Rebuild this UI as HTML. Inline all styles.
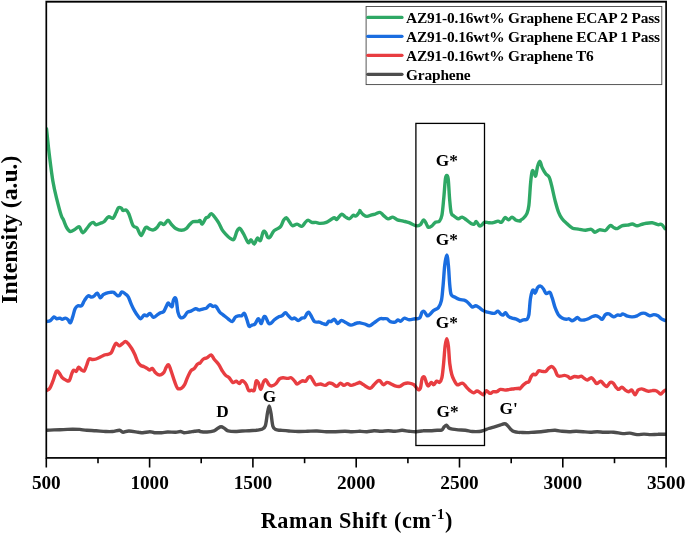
<!DOCTYPE html>
<html><head><meta charset="utf-8"><title>Raman spectra</title>
<style>
html,body{margin:0;padding:0;background:#fff;}
body{width:685px;height:534px;overflow:hidden;}
svg{display:block;}
svg text{font-family:"Liberation Serif","Times New Roman",serif;font-weight:bold;fill:#000;}
</style></head><body>
<svg width="685" height="534" viewBox="0 0 685 534">
<rect width="685" height="534" fill="#fff"/>
<clipPath id="pc"><rect x="46.3" y="1.8" width="619.8" height="456.1"/></clipPath>
<g fill="none" stroke-width="3.4" stroke-linejoin="round" stroke-linecap="round" clip-path="url(#pc)"><g transform="translate(0,0.4)">
<path d="M46.5,429.9 C47.8,429.8 51.2,429.6 54.0,429.5 C56.8,429.4 60.3,429.3 63.4,429.2 C66.5,429.1 70.0,428.8 72.7,428.8 C75.4,428.8 77.5,428.8 79.8,429.0 C82.1,429.2 84.1,429.7 86.8,429.9 C89.5,430.1 93.0,430.2 96.1,430.4 C99.2,430.6 102.8,431.0 105.5,431.1 C108.2,431.2 110.2,431.3 112.5,431.1 C114.8,430.9 117.8,429.8 119.5,429.9 C121.2,430.0 121.4,431.7 123.0,431.8 C124.6,431.9 126.4,430.6 128.9,430.6 C131.4,430.6 135.9,431.5 138.2,431.8 C140.5,432.1 140.9,432.4 142.9,432.3 C144.9,432.2 148.0,431.3 149.9,431.3 C151.8,431.3 152.7,432.1 154.6,432.3 C156.5,432.5 159.4,432.4 161.6,432.3 C163.8,432.2 165.2,431.7 167.5,431.6 C169.8,431.5 173.5,431.9 175.7,431.8 C177.8,431.7 179.0,431.0 180.4,431.1 C181.8,431.2 182.4,432.2 183.9,432.3 C185.4,432.4 187.9,431.8 189.7,431.6 C191.4,431.4 192.8,431.1 194.4,430.9 C196.0,430.7 198.2,430.4 199.1,430.4 C200.0,430.4 198.7,430.9 200.0,431.1 C201.3,431.3 204.7,431.7 207.0,431.6 C209.3,431.5 212.2,431.0 214.0,430.4 C215.8,429.8 216.3,428.8 217.5,428.1 C218.7,427.4 219.9,426.4 221.1,426.4 C222.3,426.4 223.4,427.4 224.6,428.1 C225.8,428.8 226.3,429.9 228.1,430.4 C229.8,430.9 232.8,431.1 235.1,431.1 C237.4,431.1 239.8,430.7 242.1,430.6 C244.4,430.5 246.8,430.5 249.1,430.4 C251.4,430.3 254.0,430.1 256.1,429.9 C258.2,429.6 260.3,429.6 261.8,428.9 C263.3,428.2 264.4,428.1 265.3,425.5 C266.2,422.9 266.8,416.3 267.4,413 C268.0,409.7 268.6,405.6 269.2,405.6 C269.8,405.6 270.4,409.6 271.0,413 C271.6,416.4 272.1,423.1 272.9,425.8 C273.7,428.5 274.5,428.5 275.8,429.2 C277.1,429.9 278.5,429.7 280.7,429.9 C282.9,430.1 286.0,430.4 288.9,430.6 C291.8,430.8 295.1,431.1 298.2,431.1 C301.3,431.2 304.5,431.0 307.6,430.9 C310.7,430.8 313.9,430.5 317.0,430.6 C320.1,430.7 323.2,431.2 326.3,431.3 C329.4,431.4 332.6,431.4 335.7,431.3 C338.8,431.2 342.3,430.9 345.0,430.9 C347.7,430.9 349.6,431.3 352.0,431.3 C354.4,431.3 357.8,431.0 359.1,430.9 C360.4,430.8 358.7,430.8 360.0,430.9 C361.3,431.0 364.7,431.4 367.0,431.3 C369.3,431.2 371.6,430.5 374.0,430.4 C376.4,430.3 378.8,430.9 381.1,430.9 C383.5,430.9 385.8,430.4 388.1,430.4 C390.4,430.4 392.8,431.0 395.1,430.9 C397.4,430.8 399.8,429.9 402.1,429.9 C404.4,429.9 406.8,430.7 409.1,430.9 C411.4,431.1 413.8,431.4 416.1,431.3 C418.5,431.2 420.9,430.5 423.2,430.4 C425.5,430.2 427.9,430.5 430.2,430.4 C432.5,430.3 435.2,430.0 437.2,429.9 C439.1,429.8 440.7,430.1 441.9,429.5 C443.1,428.9 443.4,427.2 444.2,426.4 C445.0,425.6 445.7,424.6 446.5,424.8 C447.3,425.0 447.9,426.9 448.9,427.6 C449.9,428.3 450.8,428.5 452.4,428.8 C453.9,429.1 456.0,429.3 458.2,429.5 C460.4,429.7 462.9,429.6 465.3,429.9 C467.7,430.2 470.0,430.9 472.3,431.1 C474.6,431.3 477.4,431.3 479.3,431.1 C481.2,430.9 482.4,430.4 484.0,429.9 C485.6,429.4 486.9,428.7 488.7,428.1 C490.4,427.5 492.8,426.9 494.5,426.4 C496.2,425.9 497.5,425.5 499.2,425.0 C500.9,424.5 503.2,423.4 504.6,423.4 C506.0,423.4 506.3,424.1 507.4,425.0 C508.4,425.9 509.7,427.9 510.9,429.0 C512.1,430.1 513.0,430.8 514.4,431.3 C515.8,431.8 518.2,431.9 519.1,432.0 C520.0,432.1 518.7,432.0 520.0,432.0 C521.3,432.0 524.7,432.2 527.0,432.2 C529.3,432.2 531.6,431.9 534.0,431.8 C536.4,431.7 538.8,431.5 541.1,431.3 C543.5,431.1 545.8,430.6 548.1,430.4 C550.4,430.2 552.8,429.8 555.1,429.9 C557.4,430.0 559.8,430.7 562.1,430.9 C564.4,431.1 566.8,431.3 569.1,431.3 C571.4,431.3 573.8,430.9 576.1,430.9 C578.5,430.9 580.9,431.1 583.2,431.3 C585.6,431.5 587.9,431.8 590.2,431.8 C592.5,431.8 594.9,431.3 597.2,431.3 C599.5,431.3 601.5,431.7 604.2,431.8 C606.9,431.9 610.5,431.6 613.6,431.8 C616.7,432.0 620.2,433.1 622.9,433.2 C625.6,433.3 627.5,432.5 629.9,432.7 C632.2,432.9 634.6,434.0 637.0,434.2 C639.4,434.4 641.7,433.7 644.0,433.7 C646.3,433.7 648.7,434.2 651.0,434.2 C653.3,434.2 655.6,433.9 658.0,433.9 C660.4,433.8 664.2,433.9 665.5,433.9" stroke="#4d4d4d"/>
<path d="M46.5,390.2 C47.0,389.8 48.7,389.4 49.8,387.8 C50.9,386.2 51.8,383.6 52.9,380.8 C54.0,378.0 55.3,372.4 56.4,371.0 C57.5,369.6 58.2,371.6 59.2,372.6 C60.2,373.7 61.1,376.1 62.2,377.3 C63.3,378.5 64.5,379.1 65.7,379.6 C66.9,380.1 68.2,381.4 69.2,380.4 C70.2,379.4 70.9,375.6 71.6,373.8 C72.3,372.0 72.7,370.3 73.5,369.8 C74.3,369.3 75.5,371.5 76.3,371.0 C77.1,370.5 77.7,367.0 78.6,366.8 C79.5,366.6 80.6,369.0 81.6,369.6 C82.6,370.2 83.5,371.2 84.4,370.3 C85.3,369.4 86.0,366.3 86.8,364.4 C87.6,362.4 88.1,359.5 89.1,358.6 C90.1,357.7 91.4,359.1 92.6,359.1 C93.8,359.1 94.8,359.0 96.1,358.6 C97.4,358.2 99.0,357.4 100.4,356.7 C101.8,356.0 103.1,355.1 104.3,354.6 C105.5,354.1 106.6,354.3 107.8,353.9 C109.0,353.5 110.3,353.5 111.3,352.3 C112.3,351.1 112.9,348.5 113.7,346.9 C114.5,345.3 115.1,343.2 116.0,342.9 C116.9,342.6 118.0,345.2 119.1,345.3 C120.1,345.4 121.2,344.1 122.3,343.4 C123.3,342.7 124.4,341.1 125.4,341.1 C126.4,341.1 127.4,342.2 128.4,343.4 C129.4,344.6 130.6,346.4 131.7,348.1 C132.8,349.9 133.7,351.6 134.7,353.9 C135.7,356.1 136.8,359.8 137.8,361.6 C138.8,363.4 139.6,364.1 140.6,364.9 C141.6,365.7 143.0,365.8 144.1,366.3 C145.2,366.8 146.1,367.4 147.1,368.0 C148.1,368.6 149.0,369.6 149.9,369.6 C150.8,369.6 151.4,367.6 152.3,368.0 C153.2,368.4 154.1,370.8 155.1,371.9 C156.1,372.9 157.1,373.9 158.1,374.3 C159.1,374.7 160.2,374.7 161.2,374.3 C162.2,373.9 163.2,373.1 164.0,371.9 C164.8,370.6 165.5,368.1 166.3,366.8 C167.1,365.6 167.9,363.8 168.7,364.4 C169.5,365.0 170.0,367.6 171.0,370.3 C172.0,373.0 173.4,377.9 174.5,380.8 C175.6,383.7 176.3,386.6 177.5,387.8 C178.7,389.0 180.3,388.4 181.5,387.8 C182.7,387.2 183.6,386.1 184.6,384.3 C185.6,382.6 186.3,379.6 187.4,377.3 C188.5,375.0 189.7,371.9 190.9,370.3 C192.1,368.8 193.4,369.1 194.4,368.0 C195.4,366.9 196.4,364.9 197.2,364.0 C198.0,363.1 198.6,363.0 199.1,362.8 C199.6,362.6 199.3,363.3 200.0,362.6 C200.7,361.9 202.3,359.5 203.5,358.6 C204.7,357.7 205.7,358.1 207.0,357.4 C208.3,356.7 210.0,354.4 211.2,354.6 C212.4,354.8 212.8,357.0 214.0,358.6 C215.2,360.2 217.3,362.1 218.7,364.0 C220.1,365.9 221.0,368.5 222.2,370.3 C223.4,372.1 224.5,373.8 225.7,375.0 C226.9,376.2 228.0,376.1 229.2,377.3 C230.4,378.5 231.5,381.4 232.7,382.0 C233.9,382.6 235.2,380.6 236.3,380.8 C237.4,381.0 238.4,383.3 239.3,383.2 C240.2,383.1 240.8,380.7 241.6,380.4 C242.4,380.1 243.2,380.6 244.0,381.3 C244.8,382.0 245.5,382.8 246.3,384.3 C247.1,385.8 247.8,389.3 248.7,390.2 C249.6,391.1 250.6,389.8 251.5,389.7 C252.4,389.6 253.5,391.2 254.3,389.7 C255.1,388.2 255.4,382.0 256.1,380.8 C256.8,379.6 257.7,381.3 258.5,382.7 C259.3,384.1 259.9,389.2 260.8,389.0 C261.7,388.8 262.7,382.9 263.6,381.3 C264.5,379.7 265.1,379.1 266.0,379.6 C266.9,380.1 268.0,383.3 269.0,384.3 C270.0,385.3 270.8,385.7 272.0,385.5 C273.2,385.3 274.8,384.4 276.0,383.2 C277.2,382.0 278.3,379.5 279.5,378.5 C280.7,377.5 281.6,377.4 283.0,377.3 C284.4,377.2 286.3,378.0 287.7,378.0 C289.1,378.0 290.0,376.8 291.2,377.3 C292.4,377.8 293.7,379.8 294.7,380.8 C295.7,381.9 296.1,383.5 297.1,383.6 C298.1,383.7 299.6,381.8 300.6,381.3 C301.6,380.8 302.0,380.5 302.9,380.4 C303.8,380.3 304.8,381.3 305.7,380.8 C306.6,380.3 307.3,378.1 308.1,377.3 C308.9,376.5 309.6,375.7 310.4,376.1 C311.2,376.5 311.8,378.2 312.7,379.6 C313.6,381.0 314.5,383.6 315.8,384.3 C317.1,385.0 318.9,383.5 320.5,383.6 C322.1,383.7 323.7,385.1 325.1,385.0 C326.5,384.9 327.5,383.0 328.7,382.7 C329.9,382.4 330.8,382.6 332.2,383.2 C333.6,383.8 335.4,386.1 336.8,386.0 C338.2,385.9 339.2,382.9 340.4,382.7 C341.6,382.5 342.7,384.9 343.9,385.0 C345.1,385.1 346.2,383.2 347.4,383.2 C348.6,383.2 349.5,384.9 350.9,385.0 C352.3,385.1 354.2,384.1 355.6,383.6 C357.0,383.1 358.4,382.5 359.1,382.2 C359.8,381.9 359.3,381.6 360.0,382.0 C360.7,382.4 362.3,383.5 363.5,384.3 C364.7,385.1 365.8,386.1 367.0,386.7 C368.2,387.3 369.3,388.2 370.5,387.8 C371.7,387.4 372.8,385.5 374.0,384.3 C375.2,383.1 376.5,381.5 377.5,380.8 C378.5,380.1 378.9,379.8 379.9,380.4 C380.9,381.0 382.2,384.0 383.4,384.3 C384.6,384.6 385.7,382.2 386.9,382.0 C388.1,381.8 389.0,382.6 390.4,383.2 C391.8,383.8 393.5,385.0 395.1,385.5 C396.7,386.0 398.2,386.4 399.8,386.0 C401.4,385.6 402.8,383.8 404.4,383.2 C405.9,382.6 407.5,382.5 409.1,382.7 C410.7,382.9 412.3,383.2 413.8,384.3 C415.3,385.4 416.9,388.4 418.0,389.0 C419.1,389.6 419.7,389.6 420.4,387.8 C421.1,386.1 421.4,380.4 422.0,378.5 C422.6,376.6 423.5,375.8 424.3,376.6 C425.1,377.4 426.0,381.7 426.7,383.2 C427.4,384.7 427.5,385.7 428.3,385.5 C429.1,385.3 430.4,382.2 431.3,382.0 C432.2,381.8 432.8,384.5 433.7,384.3 C434.6,384.1 435.7,381.2 436.7,380.8 C437.7,380.4 438.6,382.6 439.5,382.0 C440.4,381.4 441.2,380.6 441.9,377.3 C442.6,374.0 443.2,367.4 443.7,362.1 C444.2,356.8 444.6,349.7 445.1,345.7 C445.6,341.7 446.2,338.2 446.8,338.2 C447.4,338.2 447.9,341.5 448.4,345.7 C448.9,349.9 449.2,358.6 449.8,363.3 C450.4,368.0 451.0,371.1 451.7,373.8 C452.4,376.5 453.1,377.9 454.0,379.6 C454.9,381.4 456.0,383.7 457.1,384.3 C458.2,384.9 459.6,383.4 460.6,383.2 C461.7,383.0 462.4,382.6 463.4,383.2 C464.4,383.8 465.3,385.5 466.4,386.7 C467.5,387.9 468.7,389.2 469.9,390.2 C471.1,391.2 472.3,392.4 473.5,392.5 C474.7,392.6 475.8,390.6 477.0,390.6 C478.2,390.6 479.4,391.9 480.5,392.5 C481.6,393.1 482.5,394.8 483.5,394.4 C484.5,394.0 485.2,390.4 486.3,390.2 C487.4,390.0 488.6,392.8 489.8,393.0 C491.0,393.2 492.1,391.6 493.3,391.3 C494.5,391.0 495.6,391.7 496.8,391.3 C498.0,390.9 499.0,389.3 500.4,389.0 C501.8,388.7 503.4,389.7 505.0,389.7 C506.6,389.7 508.1,389.2 509.7,389.0 C511.3,388.8 512.8,388.5 514.4,388.3 C516.0,388.1 518.2,387.8 519.1,387.8 C520.0,387.8 519.3,388.9 520.0,388.3 C520.7,387.7 522.4,385.4 523.5,384.3 C524.6,383.2 525.6,382.5 526.5,382.0 C527.4,381.5 528.1,382.3 528.9,381.3 C529.7,380.3 530.4,377.4 531.2,376.1 C532.0,374.9 532.8,374.1 533.6,373.8 C534.4,373.5 535.0,374.9 535.9,374.3 C536.8,373.7 537.7,370.9 538.7,370.3 C539.8,369.8 541.0,370.9 542.2,371.0 C543.4,371.1 544.7,371.5 545.7,371.0 C546.8,370.5 547.5,368.8 548.5,368.0 C549.5,367.2 550.6,366.0 551.6,366.1 C552.6,366.2 553.6,367.2 554.6,368.7 C555.6,370.2 556.4,373.8 557.4,375.0 C558.4,376.2 559.7,375.7 560.9,375.7 C562.1,375.7 563.2,374.9 564.4,375.0 C565.6,375.1 567.0,375.6 568.0,376.1 C569.0,376.6 569.2,378.0 570.3,378.0 C571.3,378.0 572.9,376.3 574.3,376.1 C575.7,375.9 577.3,376.7 578.5,376.6 C579.7,376.5 580.3,375.5 581.3,375.7 C582.3,375.9 583.3,377.4 584.3,378.0 C585.3,378.6 586.2,379.7 587.4,379.6 C588.6,379.5 590.1,377.2 591.3,377.3 C592.5,377.4 593.5,379.4 594.4,380.4 C595.3,381.4 595.7,383.1 596.7,383.2 C597.8,383.3 599.5,380.6 600.7,380.8 C602.0,381.0 603.2,383.4 604.2,384.3 C605.2,385.2 606.0,386.4 607.0,386.0 C608.0,385.6 609.1,382.6 610.1,382.0 C611.1,381.4 612.1,381.9 613.1,382.7 C614.1,383.5 615.0,385.6 615.9,386.7 C616.8,387.8 617.7,389.0 618.7,389.0 C619.7,389.0 620.7,386.6 621.8,386.7 C622.9,386.8 624.1,388.9 625.3,389.7 C626.5,390.5 627.7,391.3 628.8,391.3 C629.9,391.3 630.8,389.2 631.8,389.7 C632.8,390.2 634.0,394.4 635.1,394.4 C636.2,394.4 637.0,390.7 638.1,389.7 C639.2,388.7 640.4,388.5 641.6,388.5 C642.8,388.5 643.9,389.3 645.1,389.7 C646.3,390.1 647.5,390.8 648.7,390.9 C649.9,391.0 651.0,390.3 652.2,390.2 C653.4,390.1 654.7,389.9 655.7,390.2 C656.8,390.5 657.6,391.4 658.5,392.0 C659.4,392.6 660.0,393.8 660.8,393.7 C661.6,393.6 662.4,392.0 663.2,391.3 C664.0,390.6 665.1,390.0 665.5,389.7" stroke="#e83d41"/>
<path d="M46.5,321.2 C47.2,321.0 49.2,320.9 50.5,320.1 C51.8,319.3 53.0,316.8 54.0,316.5 C55.0,316.2 55.8,318.2 56.8,318.4 C57.8,318.6 59.0,317.6 59.9,317.7 C60.8,317.8 61.3,318.9 62.2,318.9 C63.1,318.9 64.3,317.6 65.3,317.7 C66.3,317.8 67.2,318.6 68.1,319.4 C68.9,320.2 69.6,322.9 70.4,322.4 C71.2,321.9 71.9,318.8 72.7,316.5 C73.5,314.2 74.2,310.3 75.1,308.4 C76.0,306.5 76.8,305.8 77.9,305.3 C79.0,304.8 80.5,306.2 81.6,305.3 C82.7,304.4 83.3,301.8 84.4,300.2 C85.5,298.6 86.8,296.1 88.0,295.5 C89.2,294.9 90.5,296.7 91.5,296.7 C92.5,296.7 93.3,296.2 94.3,295.5 C95.3,294.8 96.3,292.4 97.3,292.7 C98.3,293.0 99.4,297.1 100.4,297.4 C101.4,297.7 102.2,295.1 103.2,294.3 C104.2,293.5 105.5,293.1 106.7,292.7 C107.9,292.3 109.0,292.1 110.2,292.0 C111.4,291.9 112.5,291.5 113.7,292.0 C114.9,292.5 116.2,294.5 117.2,295.0 C118.2,295.5 118.7,295.6 119.5,295.0 C120.3,294.4 120.9,291.7 121.9,291.5 C122.9,291.3 124.3,292.7 125.4,293.6 C126.5,294.5 127.4,295.0 128.4,296.7 C129.4,298.4 130.1,301.4 131.2,303.7 C132.2,306.0 133.6,308.8 134.7,310.7 C135.8,312.6 136.8,314.1 137.8,315.4 C138.8,316.7 139.6,318.5 140.6,318.4 C141.6,318.3 143.0,315.2 144.1,314.7 C145.2,314.2 146.1,315.7 147.1,315.4 C148.1,315.1 148.8,312.7 149.9,313.0 C151.0,313.3 152.3,316.7 153.5,317.0 C154.7,317.3 155.8,315.5 157.0,314.7 C158.2,313.9 159.4,312.9 160.5,312.3 C161.6,311.8 162.5,312.4 163.5,311.4 C164.5,310.3 165.5,307.5 166.3,306.0 C167.1,304.5 167.5,302.6 168.2,302.5 C168.9,302.4 169.8,304.7 170.5,305.3 C171.2,305.9 171.7,306.9 172.2,306.0 C172.7,305.1 172.8,301.6 173.3,300.2 C173.8,298.8 174.5,297.4 175.0,297.4 C175.5,297.4 175.9,297.8 176.4,300.2 C176.9,302.6 177.3,309.1 178.0,311.9 C178.7,314.7 179.4,316.2 180.4,317.0 C181.4,317.8 182.7,317.4 183.9,316.5 C185.1,315.6 186.2,312.9 187.4,311.9 C188.6,310.9 189.5,311.3 190.9,310.7 C192.3,310.1 194.3,308.6 195.6,308.4 C196.9,308.2 197.9,309.3 198.6,309.5 C199.3,309.7 199.2,309.7 200.0,309.5 C200.8,309.3 202.4,308.7 203.5,308.4 C204.6,308.1 205.4,308.4 206.5,307.7 C207.6,307.0 208.7,304.7 209.8,304.4 C210.9,304.1 211.9,305.7 212.9,306.0 C213.9,306.3 214.7,305.0 215.9,306.0 C217.1,307.0 218.7,310.4 219.9,311.9 C221.2,313.3 222.0,313.6 223.4,314.7 C224.8,315.8 226.6,317.3 228.1,318.4 C229.6,319.5 231.1,321.4 232.3,321.2 C233.5,321.0 234.1,318.0 235.1,317.0 C236.1,316.0 237.5,315.7 238.6,315.4 C239.7,315.1 240.6,315.8 241.6,315.4 C242.6,315.0 243.5,312.4 244.4,313.0 C245.3,313.6 246.0,316.8 246.8,318.9 C247.6,321.0 248.2,324.9 249.1,325.9 C249.9,326.9 250.9,325.1 251.9,324.7 C252.9,324.3 254.0,324.7 255.0,323.6 C256.0,322.6 257.2,319.0 258.0,318.4 C258.8,317.8 259.1,319.3 259.6,320.1 C260.2,320.9 260.6,323.6 261.3,323.1 C262.0,322.6 262.9,318.1 263.6,317.0 C264.3,315.9 264.7,315.6 265.5,316.5 C266.3,317.4 267.4,321.3 268.3,322.4 C269.2,323.5 269.6,323.6 270.6,323.1 C271.6,322.6 273.1,320.5 274.4,319.4 C275.7,318.3 277.1,317.2 278.4,316.5 C279.6,315.8 280.7,316.1 281.9,315.4 C283.1,314.7 284.3,312.3 285.4,312.3 C286.5,312.3 287.3,314.4 288.4,315.4 C289.4,316.4 290.6,318.0 291.7,318.4 C292.8,318.8 293.6,317.4 294.7,317.7 C295.8,318.0 297.0,320.1 298.2,320.1 C299.4,320.1 300.7,318.2 301.8,317.7 C302.9,317.2 303.9,317.8 304.8,317.0 C305.7,316.2 306.4,313.9 307.1,313.0 C307.8,312.1 308.1,311.5 308.8,311.9 C309.5,312.3 310.1,313.8 311.1,315.4 C312.1,316.9 313.2,320.1 314.6,321.2 C316.0,322.2 317.9,321.4 319.3,321.7 C320.7,322.0 321.6,322.7 322.8,323.1 C324.0,323.5 325.3,324.4 326.3,324.0 C327.3,323.6 327.9,321.3 328.7,320.8 C329.5,320.3 330.0,321.5 331.0,321.2 C332.0,320.9 333.4,318.6 334.5,318.9 C335.6,319.2 336.3,322.9 337.5,323.1 C338.7,323.3 340.1,320.2 341.5,320.1 C342.9,320.0 344.6,321.6 346.2,322.4 C347.8,323.2 349.3,324.6 350.9,324.7 C352.5,324.8 354.2,323.5 355.6,323.1 C357.0,322.7 358.4,322.5 359.1,322.4 C359.8,322.3 359.1,322.2 360.0,322.4 C360.9,322.6 363.1,323.1 364.7,323.6 C366.3,324.1 367.8,325.6 369.4,325.4 C370.9,325.2 372.2,323.6 374.0,322.4 C375.8,321.2 378.3,319.1 379.9,318.4 C381.5,317.7 382.2,318.4 383.4,318.4 C384.6,318.4 385.7,317.9 386.9,318.4 C388.1,318.9 389.0,320.6 390.4,321.2 C391.8,321.8 393.9,322.0 395.1,321.7 C396.4,321.4 396.9,319.8 397.9,319.6 C398.9,319.5 399.8,321.1 400.9,320.8 C402.0,320.5 403.0,317.9 404.4,317.7 C405.8,317.5 407.3,319.3 409.1,319.4 C410.9,319.5 413.2,318.7 415.0,318.4 C416.8,318.1 418.4,318.8 419.6,317.7 C420.8,316.6 421.2,313.0 422.0,311.9 C422.8,310.8 423.4,310.6 424.3,311.2 C425.2,311.8 426.4,315.0 427.4,315.4 C428.4,315.8 429.1,314.6 430.2,313.7 C431.2,312.8 432.3,311.1 433.7,310.0 C435.1,308.9 437.1,308.8 438.4,307.2 C439.7,305.6 440.6,303.7 441.4,300.2 C442.2,296.7 442.4,292.0 443.0,286.1 C443.6,280.2 444.1,270.4 444.7,265.1 C445.3,259.9 446.2,254.6 446.8,254.6 C447.4,254.6 447.9,260.0 448.4,265.1 C448.9,270.2 449.3,280.1 449.8,285.0 C450.3,289.9 450.4,292.4 451.2,294.3 C452.0,296.2 453.3,295.9 454.7,296.7 C456.1,297.5 457.6,298.4 459.4,299.0 C461.2,299.6 463.7,299.5 465.3,300.2 C466.9,300.9 467.6,301.9 468.8,303.0 C470.0,304.1 471.1,306.3 472.3,306.7 C473.5,307.1 474.6,305.2 475.8,305.3 C477.0,305.4 478.1,306.4 479.3,307.2 C480.5,308.0 481.6,309.3 482.8,310.0 C484.0,310.7 485.1,311.0 486.3,311.4 C487.5,311.8 488.6,312.0 489.8,312.3 C491.0,312.6 492.3,313.0 493.3,313.0 C494.3,313.0 494.9,312.7 495.7,312.3 C496.5,311.9 497.1,310.5 498.0,310.7 C498.9,310.9 499.9,313.0 500.8,313.7 C501.7,314.4 502.4,314.9 503.2,314.7 C504.0,314.5 504.6,312.1 505.5,312.3 C506.4,312.5 507.4,315.2 508.5,316.1 C509.6,317.0 510.8,317.3 512.0,317.7 C513.2,318.1 514.4,318.0 515.6,318.4 C516.8,318.8 518.4,319.9 519.1,320.3 C519.8,320.7 519.3,321.0 520.0,320.8 C520.7,320.6 522.3,319.7 523.5,319.4 C524.7,319.1 526.1,319.8 527.0,318.9 C527.9,318.0 528.3,317.7 528.9,314.2 C529.5,310.7 529.8,301.9 530.5,297.8 C531.2,293.7 532.1,290.5 532.9,289.6 C533.7,288.8 534.4,293.1 535.2,292.7 C536.0,292.3 536.6,288.5 537.5,287.3 C538.4,286.1 539.6,285.5 540.6,285.7 C541.6,285.9 542.5,287.2 543.4,288.5 C544.3,289.8 545.1,292.6 546.2,293.2 C547.3,293.8 548.9,291.2 549.9,292.0 C550.9,292.8 551.4,295.3 552.3,297.8 C553.2,300.3 554.0,304.4 555.1,307.2 C556.2,310.0 557.4,312.9 558.6,314.7 C559.8,316.4 560.8,317.0 562.1,317.7 C563.4,318.4 565.1,318.8 566.3,318.9 C567.5,319.0 568.2,318.2 569.1,318.4 C570.0,318.6 570.9,320.2 571.9,320.3 C572.9,320.4 574.1,319.4 575.0,318.9 C575.9,318.3 576.4,316.9 577.3,317.0 C578.2,317.1 579.2,319.0 580.4,319.4 C581.6,319.8 583.0,319.8 584.3,319.6 C585.6,319.4 586.9,319.0 588.3,318.4 C589.7,317.8 591.2,316.6 592.5,316.1 C593.8,315.6 594.8,315.2 596.0,315.4 C597.2,315.5 598.5,316.4 599.5,317.0 C600.5,317.6 601.3,319.4 602.3,318.9 C603.3,318.4 604.3,315.1 605.4,314.2 C606.5,313.3 607.5,313.1 608.9,313.5 C610.3,313.9 612.2,316.3 613.6,316.5 C615.0,316.7 615.9,315.0 617.1,314.7 C618.3,314.4 619.6,315.1 620.6,314.9 C621.6,314.7 621.7,313.4 622.9,313.5 C624.1,313.6 626.0,315.3 627.6,315.8 C629.2,316.3 630.7,316.6 632.3,316.5 C633.9,316.4 635.5,316.0 637.0,315.4 C638.5,314.8 640.2,313.4 641.6,313.0 C643.0,312.6 643.7,312.6 645.1,313.0 C646.5,313.4 648.3,315.2 649.8,315.4 C651.2,315.6 652.4,314.2 653.8,314.2 C655.2,314.2 656.7,314.7 658.0,315.4 C659.3,316.1 660.3,317.6 661.5,318.4 C662.7,319.2 664.4,319.8 665.0,320.1" stroke="#1a6de0"/>
<path d="M46.5,128.2 C47.0,132.7 48.3,146.3 49.4,155.1 C50.5,163.9 51.7,173.8 52.9,180.8 C54.1,187.8 55.0,191.5 56.4,197.2 C57.8,202.8 59.9,211.0 61.1,214.7 C62.3,218.4 62.4,217.2 63.4,219.4 C64.4,221.6 65.7,225.7 66.9,227.6 C68.1,229.5 69.0,230.9 70.4,231.1 C71.8,231.3 73.6,229.6 75.1,228.8 C76.6,228.0 78.0,225.8 79.3,226.4 C80.5,227.0 81.3,232.0 82.6,232.3 C83.8,232.6 85.5,229.6 86.8,228.1 C88.1,226.6 89.2,224.6 90.3,223.6 C91.4,222.6 92.3,221.9 93.3,222.0 C94.3,222.1 94.8,224.2 96.1,224.3 C97.4,224.4 99.9,223.0 101.3,222.5 C102.7,222.0 103.1,222.1 104.3,221.1 C105.5,220.1 107.0,216.9 108.5,216.4 C110.0,215.9 111.8,218.5 113.0,217.8 C114.2,217.1 115.1,214.2 116.0,212.4 C116.9,210.7 117.5,208.1 118.4,207.3 C119.3,206.5 120.6,207.2 121.4,207.7 C122.2,208.2 122.2,209.8 123.0,210.1 C123.8,210.4 125.1,209.0 126.1,209.6 C127.1,210.2 127.7,211.0 128.9,213.6 C130.1,216.2 131.7,223.0 133.1,225.3 C134.5,227.6 135.8,226.0 137.1,227.6 C138.4,229.2 139.7,235.2 141.1,235.1 C142.5,235.0 144.2,228.1 145.7,227.1 C147.2,226.1 148.6,228.4 149.9,228.8 C151.2,229.2 152.3,229.8 153.5,229.5 C154.7,229.2 155.8,228.3 157.0,227.1 C158.2,225.9 159.3,223.0 160.5,222.5 C161.7,222.0 162.8,224.5 164.0,224.1 C165.2,223.7 166.8,219.9 168.0,219.9 C169.2,219.9 170.2,222.7 171.5,224.1 C172.8,225.5 174.0,227.1 175.7,228.1 C177.4,229.1 179.8,229.9 181.5,229.9 C183.2,229.9 184.8,229.3 186.2,228.3 C187.6,227.3 188.5,225.3 189.7,224.1 C190.9,222.9 191.8,221.8 193.2,221.3 C194.6,220.8 196.8,221.3 197.9,221.1 C199.0,220.9 199.3,219.8 200.0,220.2 C200.7,220.6 201.3,224.1 202.3,223.7 C203.3,223.3 204.8,219.0 205.8,217.8 C206.8,216.6 207.3,217.5 208.2,216.7 C209.1,215.9 210.0,213.1 211.2,213.2 C212.4,213.3 213.9,215.8 215.2,217.4 C216.4,219.0 217.5,220.5 218.7,222.5 C219.9,224.5 221.0,227.6 222.2,229.5 C223.4,231.4 224.4,232.3 225.7,233.7 C227.0,235.1 228.5,236.8 229.9,237.7 C231.3,238.6 232.7,240.1 233.9,238.9 C235.1,237.7 236.0,232.5 237.0,230.7 C238.0,228.9 238.8,227.5 239.8,227.9 C240.9,228.3 242.1,231.0 243.3,233.0 C244.5,235.0 245.9,238.5 246.8,240.1 C247.7,241.7 248.0,242.5 248.7,242.4 C249.4,242.3 250.1,239.2 251.0,239.4 C251.9,239.6 253.2,243.9 254.3,243.6 C255.4,243.3 256.3,238.3 257.3,237.7 C258.3,237.1 259.4,241.1 260.4,240.1 C261.4,239.1 262.3,232.8 263.2,231.4 C264.1,230.0 264.7,231.0 265.5,231.9 C266.3,232.8 267.0,236.2 267.8,237.0 C268.6,237.8 269.2,237.6 270.2,236.5 C271.2,235.4 272.5,232.0 273.7,230.7 C274.9,229.3 276.0,229.2 277.2,228.4 C278.4,227.6 279.6,227.4 280.7,226.0 C281.8,224.6 282.7,221.1 283.7,219.7 C284.7,218.3 285.6,217.1 286.5,217.4 C287.4,217.7 288.4,220.0 289.4,221.3 C290.4,222.6 291.1,224.9 292.4,225.3 C293.7,225.7 295.5,223.6 297.1,223.7 C298.7,223.8 300.4,226.3 301.8,226.0 C303.2,225.7 304.2,223.1 305.3,222.0 C306.4,220.9 307.0,219.7 308.1,219.7 C309.2,219.7 310.5,221.6 311.8,222.0 C313.1,222.4 314.4,221.8 315.8,222.0 C317.2,222.2 318.8,223.0 320.5,223.0 C322.2,223.0 324.6,222.7 326.3,222.0 C328.1,221.3 329.6,219.8 331.0,219.0 C332.4,218.2 333.5,217.4 334.5,217.4 C335.5,217.4 335.6,219.6 336.8,219.0 C338.0,218.4 340.1,214.4 341.5,213.9 C342.9,213.4 343.7,215.4 345.0,216.2 C346.3,217.0 347.8,218.7 349.2,218.5 C350.6,218.3 352.0,215.5 353.2,215.0 C354.4,214.5 355.2,216.2 356.3,215.5 C357.4,214.8 359.4,211.6 360.0,210.8 C360.6,210.0 359.4,210.0 360.0,210.6 C360.6,211.2 362.3,213.5 363.5,214.4 C364.7,215.3 365.6,216.0 367.0,216.0 C368.4,216.0 370.3,214.8 371.7,214.4 C373.1,214.0 373.8,214.1 375.2,213.7 C376.6,213.3 378.5,211.8 379.9,212.0 C381.3,212.2 382.0,213.8 383.4,214.9 C384.8,216.0 386.6,218.1 388.1,218.4 C389.7,218.7 391.1,216.5 392.7,216.7 C394.2,216.9 395.6,218.8 397.4,219.5 C399.2,220.2 401.4,220.2 403.3,220.7 C405.2,221.2 407.0,221.5 409.1,222.3 C411.2,223.1 414.2,225.1 416.1,225.4 C418.0,225.7 419.1,225.2 420.4,224.2 C421.6,223.2 422.6,219.5 423.6,219.5 C424.7,219.5 425.9,222.9 426.7,224.2 C427.5,225.4 427.4,226.8 428.3,227.0 C429.2,227.2 430.8,226.2 432.0,225.4 C433.2,224.6 434.1,222.7 435.3,221.9 C436.6,221.1 438.4,221.9 439.5,220.7 C440.6,219.5 441.2,218.6 441.9,214.9 C442.6,211.2 443.1,204.6 443.7,198.5 C444.3,192.4 444.9,182.5 445.4,178.6 C445.9,174.7 446.3,175.1 446.8,175.1 C447.3,175.1 447.7,174.7 448.2,178.6 C448.7,182.5 449.1,192.8 449.6,198.5 C450.1,204.2 450.5,209.7 451.2,212.5 C451.9,215.3 452.4,214.3 453.6,215.3 C454.8,216.3 456.8,218.2 458.2,218.4 C459.6,218.6 460.8,216.5 462.2,216.7 C463.6,216.9 464.9,218.4 466.4,219.5 C467.9,220.6 469.8,222.3 471.1,223.0 C472.4,223.7 473.3,224.0 474.2,223.7 C475.1,223.4 475.4,220.9 476.3,221.2 C477.2,221.5 478.4,224.8 479.3,225.4 C480.2,226.0 480.8,225.3 481.6,224.7 C482.5,224.1 483.2,222.3 484.4,221.9 C485.6,221.5 487.2,222.2 488.7,222.3 C490.2,222.4 491.8,222.6 493.3,222.3 C494.9,222.0 496.6,220.8 498.0,220.7 C499.4,220.6 500.3,222.5 501.5,221.9 C502.7,221.3 503.8,217.6 505.0,217.2 C506.2,216.8 507.3,219.6 508.5,219.5 C509.7,219.4 510.8,216.7 512.0,216.7 C513.2,216.7 514.3,218.8 515.6,219.5 C516.9,220.2 519.3,220.6 520.0,220.7 C520.7,220.8 519.4,220.6 520.0,220.1 C520.6,219.6 522.3,218.9 523.5,217.7 C524.7,216.5 526.1,215.1 527.0,213.0 C527.9,210.9 528.3,209.8 528.9,204.9 C529.5,200.0 530.0,189.5 530.5,183.8 C531.0,178.1 531.6,172.9 532.2,170.9 C532.8,168.9 533.4,171.3 534.0,172.1 C534.6,172.9 535.1,176.6 535.7,175.6 C536.3,174.6 536.8,168.8 537.5,166.3 C538.2,163.9 539.1,160.7 539.9,160.9 C540.7,161.1 541.2,165.3 542.2,167.4 C543.2,169.5 544.5,171.7 545.7,173.3 C546.9,174.9 548.2,174.9 549.2,176.8 C550.2,178.8 550.6,181.1 551.6,185.0 C552.6,188.9 553.9,195.7 555.1,200.2 C556.3,204.7 557.4,208.9 558.6,211.9 C559.8,214.9 560.7,216.5 562.1,218.4 C563.5,220.3 565.0,221.5 566.8,223.1 C568.5,224.7 570.6,226.9 572.6,227.8 C574.6,228.7 576.4,228.3 578.5,228.7 C580.6,229.0 583.4,229.9 585.5,229.9 C587.6,229.9 589.7,228.6 591.3,228.9 C592.9,229.2 593.5,231.7 594.9,231.8 C596.3,231.9 597.8,229.7 599.5,229.4 C601.2,229.1 603.6,230.8 605.4,230.1 C607.2,229.4 608.7,225.7 610.1,225.2 C611.5,224.7 612.4,226.6 613.6,227.1 C614.8,227.6 615.7,228.5 617.1,228.2 C618.5,227.9 620.0,226.0 621.8,225.4 C623.5,224.8 625.9,225.0 627.6,224.7 C629.4,224.4 630.7,223.5 632.3,223.6 C633.9,223.7 635.5,225.3 637.0,225.4 C638.5,225.5 640.1,224.4 641.6,224.0 C643.1,223.6 644.5,223.2 646.3,222.9 C648.1,222.6 650.2,222.2 652.2,222.4 C654.2,222.6 656.5,224.0 658.0,224.3 C659.5,224.6 660.3,223.3 661.5,224.0 C662.7,224.7 664.4,227.5 665.0,228.2" stroke="#2ea865"/>
</g></g>
<rect x="45.4" y="0" width="621.6" height="1" fill="#c2c2c2"/>
<rect x="46.3" y="1.8" width="619.8" height="456.1" fill="none" stroke="#000" stroke-width="1.7"/>
<g stroke="#000" stroke-width="1.6"><line x1="46.3" y1="457.9" x2="46.3" y2="467.5"/><line x1="149.6" y1="457.9" x2="149.6" y2="467.5"/><line x1="252.9" y1="457.9" x2="252.9" y2="467.5"/><line x1="356.2" y1="457.9" x2="356.2" y2="467.5"/><line x1="459.5" y1="457.9" x2="459.5" y2="467.5"/><line x1="562.8" y1="457.9" x2="562.8" y2="467.5"/><line x1="666.1" y1="457.9" x2="666.1" y2="467.5"/><line x1="98.0" y1="457.9" x2="98.0" y2="463.2"/><line x1="201.2" y1="457.9" x2="201.2" y2="463.2"/><line x1="304.6" y1="457.9" x2="304.6" y2="463.2"/><line x1="407.9" y1="457.9" x2="407.9" y2="463.2"/><line x1="511.2" y1="457.9" x2="511.2" y2="463.2"/><line x1="614.5" y1="457.9" x2="614.5" y2="463.2"/></g>
<rect x="415.9" y="123.4" width="68.6" height="322.1" fill="none" stroke="#000" stroke-width="1.3"/>
<g font-size="19.3px" letter-spacing="-0.05"><text x="46.3" y="488.7" text-anchor="middle">500</text><text x="149.6" y="488.7" text-anchor="middle">1000</text><text x="252.9" y="488.7" text-anchor="middle">1500</text><text x="356.2" y="488.7" text-anchor="middle">2000</text><text x="459.5" y="488.7" text-anchor="middle">2500</text><text x="562.8" y="488.7" text-anchor="middle">3000</text><text x="666.1" y="488.7" text-anchor="middle">3500</text></g>
<rect x="366.1" y="6.5" width="295.7" height="78.1" fill="#fff" stroke="#444" stroke-width="0.9"/>
<g font-size="15.4px" letter-spacing="-0.17">
<line x1="367.8" y1="17.4" x2="402" y2="17.4" stroke="#2ea865" stroke-width="3.2" stroke-linecap="round"/><text x="406" y="22.7">AZ91-0.16wt% Graphene ECAP 2 Pass</text>
<line x1="367.8" y1="36.3" x2="402" y2="36.3" stroke="#1a6de0" stroke-width="3.2" stroke-linecap="round"/><text x="406" y="41.599999999999994">AZ91-0.16wt% Graphene ECAP 1 Pass</text>
<line x1="367.8" y1="55.3" x2="402" y2="55.3" stroke="#e83d41" stroke-width="3.2" stroke-linecap="round"/><text x="406" y="60.599999999999994">AZ91-0.16wt% Graphene T6</text>
<line x1="367.8" y1="74.3" x2="402" y2="74.3" stroke="#4d4d4d" stroke-width="3.2" stroke-linecap="round"/><text x="406" y="79.6">Graphene</text>
</g>
<g font-size="17.3px">
<text x="435.8" y="166.2">G*</text>
<text x="435.8" y="244.6">G*</text>
<text x="435.8" y="327.8">G*</text>
<text x="436.6" y="416.9">G*</text>
<text x="216.2" y="417.3">D</text>
<text x="262.8" y="401.8">G</text>
<text x="499.6" y="413.8">G'</text>
</g>
<text font-size="22.2px" letter-spacing="0.62" x="356.9" y="528" text-anchor="middle">Raman Shift (cm<tspan font-size="14.8px" dy="-8.6">-1</tspan><tspan dy="8.6">)</tspan></text>
<text font-size="23.7px" transform="translate(17.2,229.6) rotate(-90)" text-anchor="middle">Intensity (a.u.)</text>
</svg>
</body></html>
